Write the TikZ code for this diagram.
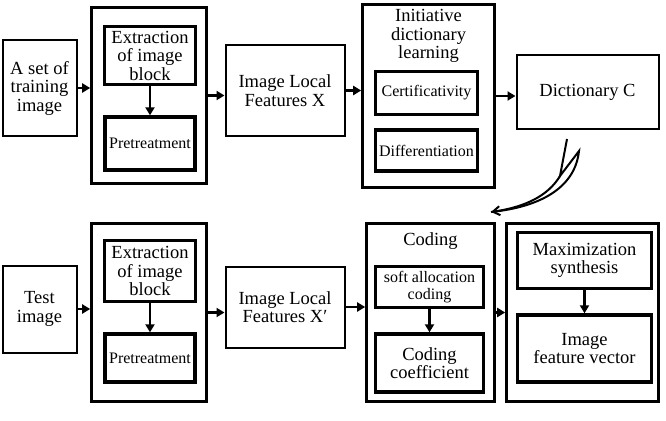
\documentclass[tikz,border=0pt]{standalone}
\usepackage{fontspec}
\setmainfont{Liberation Serif}
\usetikzlibrary{positioning,arrows.meta}
\newcommand{\bigtxt}{\fontsize{18.5}{18.5}\selectfont}
\newcommand{\smalltxt}{\fontsize{16}{16.5}\selectfont}
\tikzset{
  blk/.style={draw,line width=2pt,align=center,font=\bigtxt,inner sep=1pt},
  frame/.style={draw,line width=2.6pt,inner sep=0pt},
  sub/.style={draw,line width=3.6pt,align=center,font=\bigtxt,inner sep=1pt},
  subsm/.style={sub,font=\smalltxt},
  ttl/.style={align=center,font=\bigtxt,inner sep=0pt},
  lnk/.style={-{Triangle[length=8pt,width=9pt]},line width=2.4pt},
  bolt/.style={line width=2pt,line join=miter},
}
\begin{document}
\begin{tikzpicture}[x=1pt,y=-1pt]
  \useasboundingbox (0,0) rectangle (666,420);
  % training branch
  \node[blk,minimum width=74pt,minimum height=95pt] (train) at (39.5,88) {A set of\\training\\image};
  \node[frame,minimum width=115pt,minimum height=176pt] (out1) at (149,95.5) {};
  \node[sub,minimum width=91pt,minimum height=58pt] (ext1) at (150,55.5) {Extraction\\of image\\block};
  \node[subsm,minimum width=90pt,minimum height=53pt,below=29pt of ext1] (pre1) {Pretreatment};
  \node[blk,minimum width=119pt,minimum height=90pt] (feat1) at (285,90.5) {Image Local\\Features X};
  \node[frame,minimum width=132pt,minimum height=183pt] (out2) at (428.5,96) {};
  \node[ttl] (learn) at (428.5,36) {Initiative\\dictionary\\learning};
  \node[subsm,minimum width=102pt,minimum height=43pt] (cert) at (426.5,93) {Certificativity};
  \node[subsm,minimum width=102pt,minimum height=41pt,below=12pt of cert] (diff) {Differentiation};
  \node[blk,minimum width=142pt,minimum height=73pt] (dict) at (587.5,92) {Dictionary C};
  % test branch
  \node[blk,minimum width=74pt,minimum height=87pt] (test) at (39.5,309) {Test\\image};
  \node[frame,minimum width=115pt,minimum height=178pt] (out3) at (149,312.5) {};
  \node[sub,minimum width=91pt,minimum height=61pt] (ext2) at (150,271) {Extraction\\of image\\block};
  \node[subsm,minimum width=90pt,minimum height=48pt,below=29pt of ext2] (pre2) {Pretreatment};
  \node[blk,minimum width=119pt,minimum height=81pt] (feat2) at (285,307) {Image Local\\Features X′};
  \node[frame,minimum width=128pt,minimum height=178pt] (out4) at (430.5,312.5) {};
  \node[ttl] (code) at (430.5,241) {Coding};
  \node[subsm,minimum width=108pt,minimum height=41pt] (soft) at (429.5,287) {soft allocation\\coding};
  \node[sub,minimum width=108pt,minimum height=58pt,below=23pt of soft] (coef) {Coding\\coefficient};
  \node[frame,minimum width=152pt,minimum height=178pt] (out5) at (582.5,312.5) {};
  \node[sub,minimum width=134pt,minimum height=56pt] (maxs) at (584.5,260.5) {Maximization\\synthesis};
  \node[sub,minimum width=134pt,minimum height=67pt,below=23pt of maxs] (vec) {Image\\feature vector};
  % connectors
  \draw[lnk] (train.east) -- (train.east -| out1.west);
  \draw[lnk] (ext1.south) -- (ext1.south |- pre1.north);
  \draw[lnk] (out1.east) -- (out1.east -| feat1.west);
  \draw[lnk] (feat1.east) -- (feat1.east -| out2.west);
  \draw[lnk] (out2.east) -- (out2.east -| dict.west);
  \draw[lnk] (test.east) -- (test.east -| out3.west);
  \draw[lnk] (ext2.south) -- (ext2.south |- pre2.north);
  \draw[lnk] (out3.east) -- (out3.east -| feat2.west);
  \draw[lnk] (feat2.east) -- (feat2.east -| out4.west);
  \draw[lnk] (soft.south) -- (soft.south |- coef.north);
  \draw[lnk] (out4.east) -- (out4.east -| out5.west);
  \draw[lnk] (maxs.south) -- (maxs.south |- vec.north);
  % bent arrow from the dictionary down to coding
  \coordinate (b0) at (567,139);
  \coordinate (b1) at (560,176);
  \coordinate (b2) at (579,151);
  \coordinate (tip) at (491,212);
  \draw[bolt] (b0) -- (b1) -- (b2) .. controls (575,188) and (540,207) .. (tip);
  \draw[bolt,-{Straight Barb[length=7pt,width=9pt]}] (b1) .. controls (548,196) and (525,207) .. (tip);
\end{tikzpicture}
\end{document}
